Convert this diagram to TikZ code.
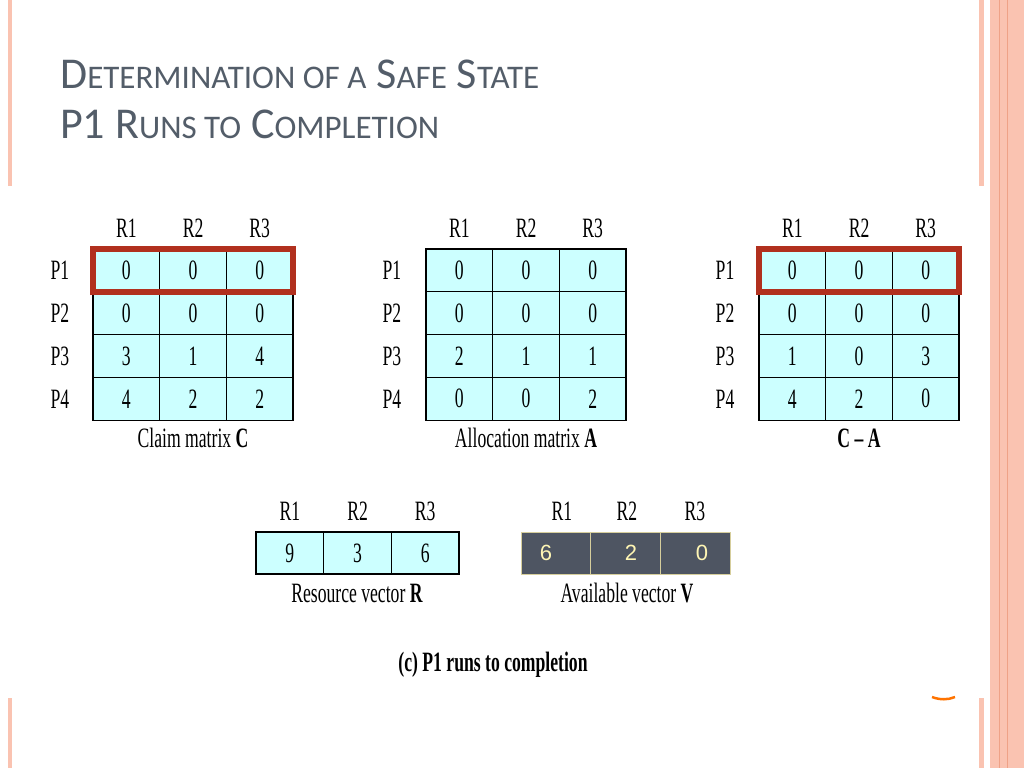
\documentclass[tikz,border=0pt]{standalone}
\usepackage{fontspec}
\setmainfont{Liberation Serif}
\newfontfamily\titlefont{Carlito}
\newfontfamily\armfont{Liberation Sans}
\definecolor{cCell}{HTML}{CCFFFF}
\definecolor{cRed}{HTML}{B1301E}
\definecolor{cTitle}{HTML}{535D69}
\definecolor{cStripe}{HTML}{FAC3B1}
\definecolor{cStripeDk}{HTML}{EFA287}
\definecolor{cVec}{HTML}{4E5562}
\definecolor{cVecTxt}{HTML}{FFF6B4}
\definecolor{cVecLine}{HTML}{D6CE9C}
\newcommand{\nar}[1]{\scalebox{0.63}[1]{#1}}
\newcommand{\sm}[1]{{\fontsize{33}{33}\selectfont #1}}
\begin{document}
\begin{tikzpicture}[x=1pt,y=-1pt,
    cellbox/.style={draw=black,line width=1.3pt,fill=cCell,minimum width=66.7pt,
        minimum height=42.8pt,inner sep=0pt,outer sep=0pt,font=\fontsize{28}{28}\selectfont},
    veccell/.style={draw=cVecLine,line width=0.8pt,fill=cVec,minimum width=69.7pt,
        minimum height=42pt,inner sep=0pt,outer sep=0pt},
    lbl/.style={inner sep=0pt,font=\fontsize{28}{28}\selectfont},
    redbox/.style={draw=cRed,line width=6pt}]
\useasboundingbox (0,0) rectangle (1024,768);

% slide frame
\fill[cStripe] (8,0) rectangle (12,186);
\fill[cStripe] (8,698) rectangle (12,768);
\fill[cStripe] (979,0) rectangle (984,186);
\fill[cStripe] (979,698) rectangle (984,768);
\fill[cStripe] (990,0) rectangle (1024,768);
\draw[cStripeDk,line width=1pt] (999,0) -- (999,768);
\draw[cStripeDk,line width=1pt] (1007,0) -- (1007,768);
\draw[orange!90!red,line width=2.5pt] (932,697) .. controls (940,700) and (948,700) .. (955,697);

% title
\node[anchor=base west,inner sep=0pt,text=cTitle,font=\titlefont\fontsize{44}{44}\selectfont]
    (title1) at (60,88) {D\sm{ETERMINATION OF A} S\sm{AFE} S\sm{TATE}};
\node[anchor=base west,inner sep=0pt,text=cTitle,font=\titlefont\fontsize{44}{44}\selectfont]
    (title2) at (60,138) {P1 R\sm{UNS TO} C\sm{OMPLETION}};

% the three matrices
\foreach \m/\x/\r/\vA/\vB/\vC in
{cl/93/1/0/0/0, cl/93/2/0/0/0, cl/93/3/3/1/4, cl/93/4/4/2/2,
    al/426/1/0/0/0, al/426/2/0/0/0, al/426/3/2/1/1, al/426/4/0/0/2,
    ca/759/1/0/0/0, ca/759/2/0/0/0, ca/759/3/1/0/3, ca/759/4/4/2/0}
{
    \foreach \v [count=\k] in {\vA,\vB,\vC}
    {
        \node[cellbox] (\m-\r-\k) at ({\x+66.7*\k-33.35},{249+42.8*\r-21.4}) {\nar{\v}};
    };
};
\foreach \m/\x/\px in {cl/93/60, al/426/392, ca/759/725}
{
    \foreach \k in {1,2,3}
    {
        \node[lbl] (\m-h\k) at ({\x+66.7*\k-33.35},228) {\nar{R\k}};
    };
    \foreach \r in {1,...,4}
    {
        \node[lbl] (\m-p\r) at (\px,{249+42.8*\r-21.4}) {\nar{P\r}};
    };
};
\draw[redbox] (cl-1-1.north west) rectangle (cl-1-3.south east);
\draw[redbox] (ca-1-1.north west) rectangle (ca-1-3.south east);

% vectors
\foreach \v [count=\k] in {9,3,6}
{
    \node[cellbox,minimum width=67.7pt,minimum height=42pt] (rv-\k) at ({256+67.7*\k-33.85},553) {\nar{\v}};
    \node[lbl] (rv-h\k) at ({256+67.7*\k-33.85},511) {\nar{R\k}};
};
\foreach \v/\tx/\hx [count=\k] in {6/546/562, 2/631/627, 0/702/695}
{
    \node[veccell] (vv-\k) at ({521+69.7*\k-34.85},553) {};
    \node[inner sep=0pt,text=cVecTxt,font=\armfont\fontsize{22}{22}\selectfont] (vt-\k) at (\tx,553) {\v};
    \node[lbl] (vv-h\k) at (\hx,511) {\nar{R\k}};
};

% captions
\foreach \n/\p/\t in
{capC/{(193,438)}/{Claim matrix \textbf{C}},
    capA/{(526,438)}/{Allocation matrix \textbf{A}},
    capCA/{(859,438)}/{\textbf{C – A}},
    capR/{(357,593)}/{Resource vector \textbf{R}},
    capV/{(627,593)}/{Available vector \textbf{V}},
    capP/{(493,665)}/{\textbf{(c) P1 runs to completion}}}
{
    \node[lbl] (\n) at \p {\nar{\t}};
};
\end{tikzpicture}
\end{document}
